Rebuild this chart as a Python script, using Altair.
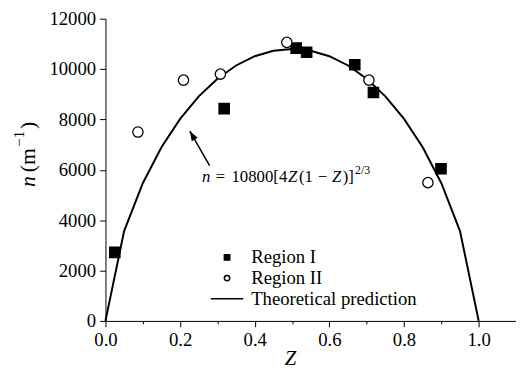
import altair as alt
import pandas as pd

# Region I (filled squares)
z_region1 = [0.025, 0.318, 0.511, 0.539, 0.668, 0.718, 0.899]
n_region1 = [2720, 8430, 10830, 10670, 10170, 9070, 6040]
# Region II (open circles)
z_region2 = [0.087, 0.209, 0.308, 0.486, 0.706, 0.864]
n_region2 = [7500, 9560, 9800, 11060, 9560, 5490]
# Theoretical prediction n = 10800[4Z(1-Z)]^(2/3)
z_theory = [0.0, 0.05, 0.10, 0.15, 0.20, 0.25, 0.30, 0.35, 0.40, 0.45, 0.50,
            0.55, 0.60, 0.65, 0.70, 0.75, 0.80, 0.85, 0.90, 0.95, 1.0]
n_theory = [0, 3569, 5466, 6894, 8021, 8915, 9615, 10142, 10510, 10728, 10800,
            10728, 10510, 10142, 9615, 8915, 8021, 6894, 5466, 3569, 0]
series_names = ["Region I", "Region II", "Theoretical prediction"]

# annotation arrow (tail -> tip) and equation anchor
arrow_z = [0.279, 0.226]
arrow_n = [6170, 7540]
eq_anchor_z = [0.2586]
eq_anchor_n = [5511]
eq_parts = ["n", "=", "10800[4", "Z", "(1", "−", "Z", ")]", "2/3"]

x_ticks = [round(i * 0.1, 1) for i in range(11)]
y_ticks = [i * 1000 for i in range(13)]

FONT = "Liberation Serif"

pts = pd.DataFrame({
    "Z": z_region1 + z_region2,
    "n": n_region1 + n_region2,
    "series": ["Region I"] * len(z_region1) + ["Region II"] * len(z_region2),
})
theory = pd.DataFrame({"Z": z_theory, "n": n_theory})
arrow = pd.DataFrame({"Z": arrow_z, "n": arrow_n, "o": [0, 1]})
arrow_tip = arrow.iloc[[1]]
anchor = pd.DataFrame({"Z": eq_anchor_z, "n": eq_anchor_n})

xscale = alt.Scale(domain=[0, 1.1], nice=False, zero=False)
yscale = alt.Scale(domain=[0, 12000], nice=False)

x_axis = alt.Axis(
    values=x_ticks, format=".1f",
    labelExpr="round(datum.value*10)%2==0 ? datum.label : ''",
    tickSize={"condition": {"test": "round(datum.value*10)%2==0", "value": 6}, "value": 3},
    grid=False, labelFlush=False, labelPadding=4,
    title="Z", titleFontStyle="italic", titleFontSize=21,
    titleX=187.5, titleY=44, titleBaseline="alphabetic",
)
y_axis = alt.Axis(
    values=y_ticks, format="d",
    labelExpr="datum.value % 2000 == 0 ? datum.label : ''",
    tickSize={"condition": {"test": "datum.value % 2000 == 0", "value": 6}, "value": 3},
    grid=False, labelFlush=False, labelPadding=4,
    title="",
)

legend = alt.Legend(
    title=None, orient="none", legendX=114, legendY=233, padding=0,
    labelFont=FONT, labelFontSize=19, labelColor="black", labelOffset=15, labelLimit=400,
    symbolSize=30, symbolStrokeWidth=1.5, symbolStrokeColor="black", rowPadding=1,
)

line = alt.Chart(theory).mark_line(color="black", strokeWidth=2).encode(
    x=alt.X("Z:Q", scale=xscale, axis=x_axis),
    y=alt.Y("n:Q", scale=yscale, axis=y_axis),
)

points = alt.Chart(pts).mark_point(strokeWidth=1.3, size=110, opacity=1).encode(
    x=alt.X("Z:Q", scale=xscale),
    y=alt.Y("n:Q", scale=yscale),
    shape=alt.Shape("series:N", scale=alt.Scale(domain=series_names, range=["square", "circle", "M-6,0H6"]), legend=legend),
    fill=alt.Fill("series:N", scale=alt.Scale(domain=series_names, range=["black", "white", "black"]), legend=legend),
    stroke=alt.Stroke("series:N", scale=alt.Scale(domain=series_names, range=["black", "black", "black"]), legend=legend),
)

arrow_line = alt.Chart(arrow).mark_line(color="black", strokeWidth=1.5).encode(
    x=alt.X("Z:Q", scale=xscale), y=alt.Y("n:Q", scale=yscale), order="o:Q"
)
arrow_head = alt.Chart(arrow_tip).mark_point(
    shape="M0,0L0.35,1L-0.35,1Z", angle=330, size=400, filled=True, color="black", opacity=1
).encode(x=alt.X("Z:Q", scale=xscale), y=alt.Y("n:Q", scale=yscale))

# equation pieces laid out along the baseline (offsets in px, styles)
eq_layout = [
    (0, 0, "italic", 17), (14, 0, "normal", 17), (30, 0, "normal", 17),
    (87.5, 0, "italic", 17), (98.5, 0, "normal", 17), (117.5, 0, "normal", 17),
    (132, 0, "italic", 17), (143, 0, "normal", 17), (155.5, -8.5, "normal", 12),
]
eq_marks = []
for txt, (dx, dy, style, fs) in zip(eq_parts, eq_layout):
    eq_marks.append(
        alt.Chart(anchor).mark_text(
            text=txt, font=FONT, fontSize=fs, fontStyle=style, align="left",
            baseline="alphabetic", color="black", dx=dx, dy=dy,
        ).encode(x=alt.X("Z:Q", scale=xscale), y=alt.Y("n:Q", scale=yscale))
    )

# rotated y-axis title: n (m^-1)
ytitle_parts = ["n", "(m", "−1", ")"]
ytitle_layout = [(0, 0, "italic", 22), (15, 0, "normal", 22), (41, -11, "normal", 15), (59, 0, "normal", 22)]
ytitle_marks = []
for txt, (dx, dy, style, fs) in zip(ytitle_parts, ytitle_layout):
    ytitle_marks.append(
        alt.Chart(anchor).mark_text(
            text=txt, font=FONT, fontSize=fs, fontStyle=style, align="left",
            baseline="alphabetic", color="black", angle=270, dx=dx, dy=dy,
        ).encode(x=alt.value(-72), y=alt.value(171))
    )

chart = alt.layer(line, arrow_line, arrow_head, points, *eq_marks, *ytitle_marks).properties(
    width=417, height=307,
    autosize=alt.AutoSizeParams(type="none"),
    padding={"left": 99, "top": 8, "right": 0, "bottom": 47},
).configure_view(
    stroke="transparent"
).configure_axis(
    labelFont=FONT, labelFontSize=19, labelColor="black",
    titleFont=FONT, titleColor="black", titleFontWeight="normal",
    domainColor="black", tickColor="black", domainWidth=1, tickWidth=1,
)

chart.save("out.html", embed_options={"renderer": "svg", "actions": False})
